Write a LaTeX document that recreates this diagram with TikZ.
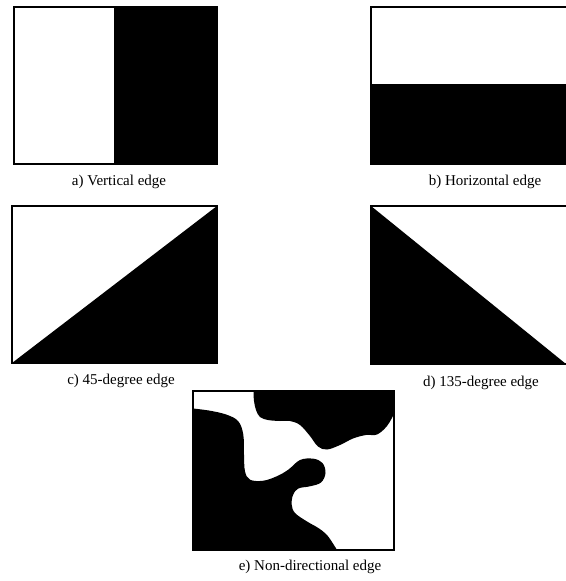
\documentclass[tikz,border=0pt]{standalone}
\usepackage{fontspec}
\setmainfont{Liberation Serif}
\begin{document}
\begin{tikzpicture}[x=1pt,y=-1pt,
  frame/.style={draw=black,line width=1.3pt},
  dark/.style={fill=black,draw=none},
  caption/.style={font=\fontsize{15}{17}\selectfont,text=black,inner sep=0pt,anchor=center}]
\useasboundingbox (0,0) rectangle (565,581);
\fill[white] (0,0) rectangle (565,581);
% a) vertical edge
\fill[dark] (114,7) rectangle (217,164);
\draw[frame] (14,7) rectangle (217,164);
\node[caption] (la) at (119,182) {a) Vertical edge};
% b) horizontal edge
\fill[dark] (371,84) rectangle (566,164);
\draw[frame] (566,7) -- (371,7) -- (371,164) -- (566,164);
\node[caption] (lb) at (485,182) {b) Horizontal edge};
% c) 45-degree edge
\fill[dark] (12,363) -- (217,206) -- (217,363) -- cycle;
\draw[frame] (12,206) rectangle (217,363);
\node[caption] (lc) at (121,381) {c) 45-degree edge};
% d) 135-degree edge
\fill[dark] (371,206) -- (566,364) -- (371,364) -- cycle;
\draw[frame] (566,206) -- (371,206) -- (371,364) -- (566,364);
\node[caption] (ld) at (481,383) {d) 135-degree edge};
% e) non-directional edge
\fill[dark] plot[smooth,tension=0.6] coordinates {(253.5,391) (254,401) (256,410) (260,417) (268,420) (280,421) (290,421) (300,425) (310,436) (318,446.5) (327,449.5) (340,445) (353,438.5) (366,435) (377,434.5) (387,426) (394,414)} -- (394,391) -- cycle;
\fill[dark] plot[smooth,tension=0.6] coordinates {(193,408.5) (210,410.7) (226.7,414.7) (238.3,421.3) (243.3,434.7) (244,454.7) (245,471.3) (250,479.7) (263.3,480.7) (276.7,476.3) (288.3,469.7) (300,460) (313.3,458.7) (322.5,463) (325.5,473) (321,482.5) (310,486.3) (298.3,488.5) (293,495) (291.7,504.7) (295,513) (306.7,521.3) (318.3,528) (326.7,534.7) (333.3,544) (337,550)} -- (193,550) -- cycle;
\draw[frame] (193,391) rectangle (394,550);
\node[caption] (le) at (310,567) {e) Non-directional edge};
\end{tikzpicture}
\end{document}
